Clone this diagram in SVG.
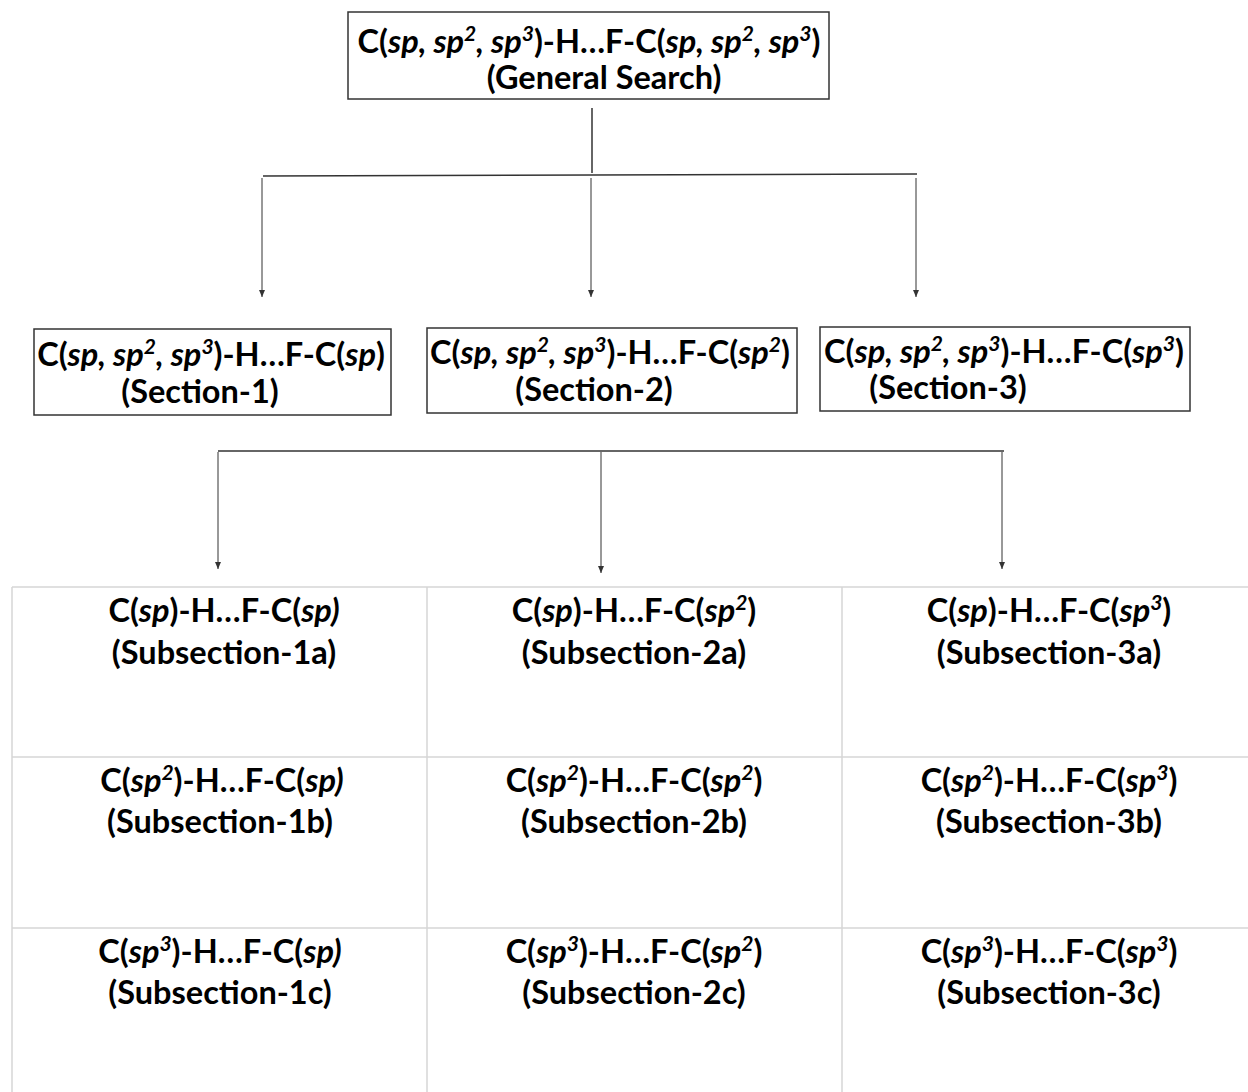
<svg xmlns="http://www.w3.org/2000/svg" width="1248" height="1092" viewBox="0 0 1248 1092">
<defs>
<style>
.t{font-family:Lato,"Liberation Sans",sans-serif;font-weight:bold;font-size:32.5px;fill:#000;text-anchor:middle}
.i{font-style:italic}
.s{font-size:21px;font-style:italic}
.box{fill:#fff;stroke:#333;stroke-width:1.5}
.grid{stroke:#d6d6d6;stroke-width:1.5;fill:none}
.con{stroke:#333;stroke-width:1.5;fill:none}
.arr{stroke:#333;stroke-width:1;fill:none}
</style>
<marker id="ah" markerWidth="8" markerHeight="8" refX="7" refY="4" orient="auto" markerUnits="userSpaceOnUse" viewBox="0 0 8 8">
<path d="M0,1 L7,4 L0,7 Z" fill="#333"/>
</marker>
</defs>
<rect width="1248" height="1092" fill="#fff"/>

<g id="connectors">
<line class="con" x1="592" y1="108" x2="592" y2="173"/>
<line class="con" x1="263" y1="176" x2="917" y2="174"/>
<line class="arr" x1="262" y1="178" x2="262" y2="297" marker-end="url(#ah)"/>
<line class="arr" x1="591" y1="178" x2="591" y2="297" marker-end="url(#ah)"/>
<line class="arr" x1="916" y1="178" x2="916" y2="297" marker-end="url(#ah)"/>
<line class="con" x1="218" y1="451" x2="1004" y2="451"/>
<line class="arr" x1="218" y1="452" x2="218" y2="569" marker-end="url(#ah)"/>
<line class="arr" x1="601" y1="452" x2="601" y2="573" marker-end="url(#ah)"/>
<line class="arr" x1="1002" y1="452" x2="1002" y2="569" marker-end="url(#ah)"/>
</g>

<g id="general">
<rect class="box" x="348" y="12" width="481" height="87"/>
<text class="t" x="589" y="53">C(<tspan class="i">sp, sp</tspan><tspan class="s" dy="-12">2</tspan><tspan class="i" dy="12">, sp</tspan><tspan class="s" dy="-12">3</tspan><tspan dy="12">)-H…F-C(</tspan><tspan class="i">sp, sp</tspan><tspan class="s" dy="-12">2</tspan><tspan class="i" dy="12">, sp</tspan><tspan class="s" dy="-12">3</tspan><tspan dy="12">)</tspan></text>
<text class="t" x="604" y="89">(General Search)</text>
</g>

<g id="section1">
<rect class="box" x="34" y="329" width="357" height="86"/>
<text class="t" x="211" y="366">C(<tspan class="i">sp, sp</tspan><tspan class="s" dy="-12">2</tspan><tspan class="i" dy="12">, sp</tspan><tspan class="s" dy="-12">3</tspan><tspan dy="12">)-H…F-C(</tspan><tspan class="i">sp</tspan>)</text>
<text class="t" x="200" y="403">(Section-1)</text>
</g>

<g id="section2">
<rect class="box" x="427" y="328" width="370" height="85"/>
<text class="t" x="610" y="364">C(<tspan class="i">sp, sp</tspan><tspan class="s" dy="-12">2</tspan><tspan class="i" dy="12">, sp</tspan><tspan class="s" dy="-12">3</tspan><tspan dy="12">)-H…F-C(</tspan><tspan class="i">sp</tspan><tspan class="s" dy="-12">2</tspan><tspan dy="12">)</tspan></text>
<text class="t" x="594" y="401">(Section-2)</text>
</g>

<g id="section3">
<rect class="box" x="820" y="327" width="370" height="84"/>
<text class="t" x="1004" y="363">C(<tspan class="i">sp, sp</tspan><tspan class="s" dy="-12">2</tspan><tspan class="i" dy="12">, sp</tspan><tspan class="s" dy="-12">3</tspan><tspan dy="12">)-H…F-C(</tspan><tspan class="i">sp</tspan><tspan class="s" dy="-12">3</tspan><tspan dy="12">)</tspan></text>
<text class="t" x="948" y="399">(Section-3)</text>
</g>

<g id="grid">
<line class="grid" x1="12" y1="587" x2="1248" y2="587"/>
<line class="grid" x1="12" y1="757" x2="1248" y2="757"/>
<line class="grid" x1="12" y1="928" x2="1248" y2="928"/>
<line class="grid" x1="12" y1="587" x2="12" y2="1092"/>
<line class="grid" x1="427" y1="587" x2="427" y2="1092"/>
<line class="grid" x1="842" y1="587" x2="842" y2="1092"/>
</g>

<g id="sub1a"><text class="t" x="224" y="622">C(<tspan class="i">sp</tspan>)-H…F-C(<tspan class="i">sp)</tspan></text><text class="t" x="224" y="664">(Subsection-1a)</text></g>
<g id="sub2a"><text class="t" x="634" y="622">C(<tspan class="i">sp</tspan>)-H…F-C(<tspan class="i">sp</tspan><tspan class="s" dy="-12">2</tspan><tspan dy="12">)</tspan></text><text class="t" x="634" y="664">(Subsection-2a)</text></g>
<g id="sub3a"><text class="t" x="1049" y="622">C(<tspan class="i">sp</tspan>)-H…F-C(<tspan class="i">sp</tspan><tspan class="s" dy="-12">3</tspan><tspan dy="12">)</tspan></text><text class="t" x="1049" y="664">(Subsection-3a)</text></g>

<g id="sub1b"><text class="t" x="222" y="792">C(<tspan class="i">sp</tspan><tspan class="s" dy="-12">2</tspan><tspan dy="12">)-H…F-C(</tspan><tspan class="i">sp)</tspan></text><text class="t" x="220" y="833">(Subsection-1b)</text></g>
<g id="sub2b"><text class="t" x="634" y="792">C(<tspan class="i">sp</tspan><tspan class="s" dy="-12">2</tspan><tspan dy="12">)-H…F-C(</tspan><tspan class="i">sp</tspan><tspan class="s" dy="-12">2</tspan><tspan dy="12">)</tspan></text><text class="t" x="634" y="833">(Subsection-2b)</text></g>
<g id="sub3b"><text class="t" x="1049" y="792">C(<tspan class="i">sp</tspan><tspan class="s" dy="-12">2</tspan><tspan dy="12">)-H…F-C(</tspan><tspan class="i">sp</tspan><tspan class="s" dy="-12">3</tspan><tspan dy="12">)</tspan></text><text class="t" x="1049" y="833">(Subsection-3b)</text></g>

<g id="sub1c"><text class="t" x="220" y="963">C(<tspan class="i">sp</tspan><tspan class="s" dy="-12">3</tspan><tspan dy="12">)-H…F-C(</tspan><tspan class="i">sp)</tspan></text><text class="t" x="220" y="1004">(Subsection-1c)</text></g>
<g id="sub2c"><text class="t" x="634" y="963">C(<tspan class="i">sp</tspan><tspan class="s" dy="-12">3</tspan><tspan dy="12">)-H…F-C(</tspan><tspan class="i">sp</tspan><tspan class="s" dy="-12">2</tspan><tspan dy="12">)</tspan></text><text class="t" x="634" y="1004">(Subsection-2c)</text></g>
<g id="sub3c"><text class="t" x="1049" y="963">C(<tspan class="i">sp</tspan><tspan class="s" dy="-12">3</tspan><tspan dy="12">)-H…F-C(</tspan><tspan class="i">sp</tspan><tspan class="s" dy="-12">3</tspan><tspan dy="12">)</tspan></text><text class="t" x="1049" y="1004">(Subsection-3c)</text></g>
</svg>
